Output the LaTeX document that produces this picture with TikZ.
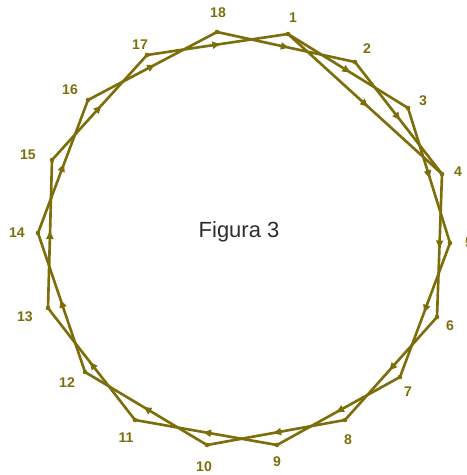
\documentclass[tikz,border=0pt]{standalone}
\usepackage{fontspec}
\setsansfont{Liberation Sans}
\usetikzlibrary{arrows.meta,decorations.markings}
\definecolor{penolive}{RGB}{125,110,12}
\definecolor{captiongray}{RGB}{45,45,45}
\tikzset{
  chord/.style={color=penolive, line width=1.5pt, line join=round, line cap=round,
    postaction={decorate},
    decoration={markings, mark=at position 0.52 with {\arrow{Triangle[length=4.5pt,width=4pt]}}}},
  num/.style={text=penolive, font=\sffamily\bfseries\fontsize{8}{8}\selectfont, inner sep=0pt}
}
\begin{document}
\begin{tikzpicture}[x=0.02cm, y=-0.02cm]
    \useasboundingbox (0,0) rectangle (466,475);
    % points on the circle
    \coordinate (v1) at (288,34);   \coordinate (v2) at (355,62);
    \coordinate (v3) at (408,108);  \coordinate (v4) at (442,174);
    \coordinate (v5) at (450,243);  \coordinate (v6) at (437,317);
    \coordinate (v7) at (400,377);  \coordinate (v8) at (345,420);
    \coordinate (v9) at (277,445);  \coordinate (v10) at (207,445);
    \coordinate (v11) at (135,420); \coordinate (v12) at (85,372);
    \coordinate (v13) at (48,308);  \coordinate (v14) at (38,233);
    \coordinate (v15) at (52,160);  \coordinate (v16) at (88,100);
    \coordinate (v17) at (147,55);  \coordinate (v18) at (217,32);
    % chords, two steps ahead, and one of three
    \foreach \i/\j in {1/3,2/4,3/5,4/6,5/7,6/8,7/9,8/10,9/11,10/12,11/13,12/14,13/15,14/16,15/17,16/18,17/1,18/2,1/4}
      \draw[chord] (v\i) -- (v\j);
    \foreach \i in {1,...,18}
      \fill[penolive] (v\i) circle (1.3pt);
    % numbers
    \node[num] (l1) at (293,18) {1};
    \node[num] (l2) at (367,49) {2};
    \node[num] (l3) at (423,101) {3};
    \node[num] (l4) at (458,172) {4};
    \node[num] (l5) at (469,243) {5};
    \node[num] (l6) at (450,326) {6};
    \node[num] (l7) at (408,392) {7};
    \node[num] (l8) at (348,440) {8};
    \node[num] (l9) at (277,462) {9};
    \node[num] (l10) at (204,467) {10};
    \node[num] (l11) at (126,438) {11};
    \node[num] (l12) at (67,383) {12};
    \node[num] (l13) at (25,317) {13};
    \node[num] (l14) at (17,233) {14};
    \node[num] (l15) at (28,155) {15};
    \node[num] (l16) at (70,90) {16};
    \node[num] (l17) at (140,45) {17};
    \node[num] (l18) at (218,13) {18};
    \node[text=captiongray, font=\sffamily\fontsize{12.5}{15}\selectfont] (fig) at (239,232) {Figura 3};
\end{tikzpicture}
\end{document}
